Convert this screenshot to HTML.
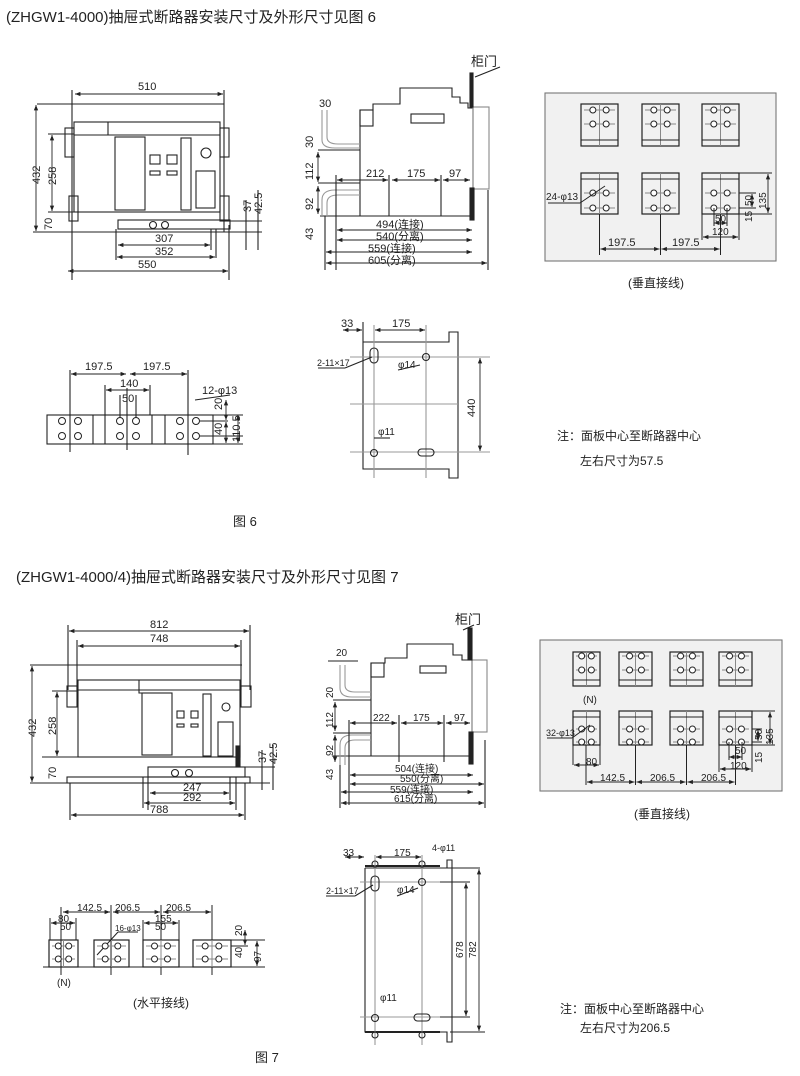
<!DOCTYPE html>
<html><head><meta charset="utf-8"><style>
html,body{margin:0;padding:0;background:#fff;}
svg{display:block}
text{font-family:"Liberation Sans","Noto Sans CJK SC",sans-serif;fill:#222}
</style></head><body>
<svg id="g" width="800" height="1076" viewBox="0 0 800 1076" xmlns="http://www.w3.org/2000/svg">
<defs>
<marker id="a" viewBox="0 0 10 10" refX="10" refY="5" markerWidth="6" markerHeight="6" orient="auto-start-reverse"><path d="M0,1 L10,5 L0,9z" fill="#222"/></marker>
</defs>
<g stroke="#222" fill="none" stroke-width="1.1">
<rect x="545" y="93" width="231" height="168" fill="#f1f1f1" stroke="#777"/>
<rect x="540" y="640" width="242" height="151" fill="#f1f1f1" stroke="#777"/>

<!-- FIG6 front -->
<rect x="74" y="122" width="146" height="90"/>
<rect x="65" y="128" width="9" height="29"/><rect x="220" y="128" width="9" height="29"/>
<line x1="74" y1="135" x2="220" y2="135"/>
<polyline points="108,122 108,135 112,135"/>
<rect x="115" y="137" width="30" height="73"/>
<rect x="150" y="155" width="10" height="9"/><rect x="167" y="155" width="10" height="9"/>
<rect x="150" y="171" width="10" height="4"/><rect x="167" y="171" width="10" height="4"/>
<rect x="181" y="138" width="10" height="72"/><circle cx="206" cy="153" r="5"/>
<rect x="196" y="171" width="19" height="37"/>
<rect x="69" y="196" width="9" height="25"/><rect x="220" y="196" width="9" height="25"/>
<rect x="118" y="220" width="112" height="9"/>
<circle cx="153" cy="225" r="3.5"/><circle cx="165" cy="225" r="3.5"/>
<line x1="33" y1="232" x2="262" y2="232"/><line x1="48" y1="212" x2="74" y2="212"/><line x1="37" y1="104" x2="224" y2="104"/><line x1="48" y1="134" x2="74" y2="134"/>
<line x1="72" y1="90" x2="72" y2="280"/><line x1="224" y1="90" x2="224" y2="232"/><line x1="229" y1="225" x2="229" y2="280"/>
<line x1="116" y1="229" x2="116" y2="260"/><line x1="211" y1="229" x2="211" y2="250"/><line x1="216" y1="229" x2="216" y2="258"/>
<line x1="230" y1="221" x2="262" y2="221"/><line x1="246" y1="200" x2="246" y2="250"/><line x1="258" y1="190" x2="258" y2="250"/>
</g>
<g stroke="#222" stroke-width="0.9" fill="none" marker-start="url(#a)" marker-end="url(#a)">
<line x1="75" y1="94" x2="223" y2="94"/>
<line x1="36" y1="105" x2="36" y2="231"/>
<line x1="52" y1="135" x2="52" y2="211"/>
<line x1="118" y1="245" x2="210" y2="245"/>
<line x1="117" y1="257" x2="215" y2="257"/>
<line x1="68" y1="271" x2="228" y2="271"/>
</g>
<g font-size="11">
<text x="138" y="90">510</text>
<text x="155" y="242">307</text>
<text x="155" y="255">352</text>
<text x="138" y="268">550</text>
<text transform="translate(40,184) rotate(-90)">432</text>
<text transform="translate(56,185) rotate(-90)">258</text>
<text transform="translate(52,230) rotate(-90)">70</text>
<text transform="translate(251,212) rotate(-90)">37</text>
<text transform="translate(262,214) rotate(-90)">42.5</text>
</g>

<!-- FIG6 side -->
<g stroke="#222" fill="none" stroke-width="1.1">
<polyline points="360,216 360,110 373,110 373,104 400,104 400,88 452,88 452,97 460,97 460,103 468,103 468,108 473,108 473,216 320,216"/>
<rect x="360" y="110" width="13" height="16"/>
<rect x="411" y="114" width="33" height="9"/>
<rect x="473" y="107" width="16" height="82" stroke="#888"/>
<rect x="470" y="73" width="3" height="34" fill="#222"/>
<rect x="470" y="188" width="4" height="32" fill="#222"/>
<line x1="475" y1="77" x2="500" y2="67"/>
<path d="M322,110 L322,140 Q322,148 335,148 L360,148 M327,110 L327,137 Q327,144 338,144 L360,144" stroke="#999"/>
<path d="M322,216 L322,200 Q322,190 335,190 L360,190 M327,216 L327,203 Q327,195 338,195 L360,195" stroke="#999"/>
<line x1="318" y1="150" x2="360" y2="150"/><line x1="318" y1="183" x2="360" y2="183"/>
<line x1="336" y1="175" x2="336" y2="270"/><line x1="389" y1="175" x2="389" y2="216"/><line x1="441" y1="175" x2="441" y2="216"/>
<line x1="488" y1="190" x2="488" y2="270"/><line x1="325" y1="216" x2="325" y2="270"/>
</g>
<g stroke="#222" stroke-width="0.9" marker-start="url(#a)" marker-end="url(#a)">
<line x1="337" y1="180" x2="388" y2="180"/><line x1="392" y1="180" x2="440" y2="180"/><line x1="443" y1="180" x2="470" y2="180"/>
<line x1="337" y1="230" x2="472" y2="230"/><line x1="337" y1="240" x2="472" y2="240"/>
<line x1="326" y1="252" x2="472" y2="252"/><line x1="326" y1="263" x2="487" y2="263"/>
<line x1="318" y1="152" x2="318" y2="182"/><line x1="318" y1="186" x2="318" y2="214"/>
</g>
<g font-size="11">
<text x="319" y="107">30</text><text x="366" y="177">212</text><text x="407" y="177">175</text><text x="449" y="177">97</text>
<text x="376" y="228">494(连接)</text><text x="376" y="240">540(分离)</text><text x="368" y="252">559(连接)</text><text x="368" y="264">605(分离)</text>
<text transform="translate(313,148) rotate(-90)">30</text><text transform="translate(313,180) rotate(-90)">112</text>
<text transform="translate(313,210) rotate(-90)">92</text><text transform="translate(313,240) rotate(-90)">43</text>
<text x="471" y="66" font-size="13">柜门</text>
</g>

<!-- FIG6 panel -->
<g stroke="#222" fill="none" id="p6"></g>
<g stroke="#222" fill="none">
<line x1="599.5" y1="214" x2="599.5" y2="255"/><line x1="660.5" y1="214" x2="660.5" y2="255"/><line x1="720.5" y1="214" x2="720.5" y2="255"/>
<line x1="714" y1="208" x2="714" y2="226"/><line x1="727" y1="208" x2="727" y2="226"/>
<line x1="702" y1="214" x2="702" y2="240"/><line x1="739" y1="214" x2="739" y2="240"/>
<line x1="739" y1="173" x2="772" y2="173"/><line x1="739" y1="214" x2="772" y2="214"/><line x1="739" y1="193" x2="756" y2="193"/><line x1="739" y1="208" x2="756" y2="208"/>
<line x1="548" y1="203" x2="580" y2="203"/><line x1="580" y1="203" x2="605" y2="186"/>
</g>
<g stroke="#222" stroke-width="0.9" marker-start="url(#a)" marker-end="url(#a)">
<line x1="600.5" y1="249" x2="659.5" y2="249"/><line x1="661.5" y1="249" x2="719.5" y2="249"/>
<line x1="714" y1="223" x2="727" y2="223"/><line x1="703" y1="237" x2="738" y2="237"/>
<line x1="768" y1="174" x2="768" y2="213"/><line x1="752" y1="194" x2="752" y2="207"/>
</g>
<g font-size="11">
<text x="546" y="200" font-size="10">24-φ13</text>
<text x="608" y="246">197.5</text><text x="672" y="246">197.5</text>
<text x="715" y="222" font-size="10">50</text><text x="712" y="235" font-size="10">120</text>
<text transform="translate(752,206) rotate(-90)" font-size="10">50</text>
<text transform="translate(766,209) rotate(-90)" font-size="10">135</text>
<text transform="translate(752,222) rotate(-90)" font-size="10">15</text>
<text x="628" y="287" font-size="12">(垂直接线)</text>
</g>

<!-- FIG6 horiz bar -->
<g stroke="#222" fill="none" stroke-width="1.1">
<rect x="47" y="415" width="166" height="29"/>
<line x1="93" y1="415" x2="93" y2="444"/><line x1="105" y1="415" x2="105" y2="444"/><line x1="152" y1="415" x2="152" y2="444"/><line x1="165" y1="415" x2="165" y2="444"/>
<line x1="70" y1="370" x2="70" y2="452"/><line x1="188" y1="370" x2="188" y2="455"/><line x1="127" y1="388" x2="127" y2="450"/>
<line x1="150" y1="385" x2="150" y2="415"/><line x1="120" y1="395" x2="120" y2="420"/><line x1="136" y1="395" x2="136" y2="420"/><line x1="105" y1="385" x2="105" y2="415"/>
<line x1="200" y1="415" x2="243" y2="415"/><line x1="200" y1="436" x2="243" y2="436"/><line x1="200" y1="421" x2="228" y2="421"/><line x1="213" y1="444" x2="243" y2="444"/>
<line x1="195" y1="400" x2="230" y2="395"/>
</g>
<g stroke="#222" stroke-width="0.9" marker-start="url(#a)" marker-end="url(#a)">
<line x1="71" y1="374" x2="126" y2="374"/><line x1="130" y1="374" x2="187" y2="374"/>
<line x1="106" y1="390" x2="149" y2="390"/>
<line x1="226" y1="400" x2="226" y2="420"/><line x1="226" y1="422" x2="226" y2="443"/><line x1="238" y1="415" x2="238" y2="443"/>
</g>
<g font-size="11">
<text x="85" y="370">197.5</text><text x="143" y="370">197.5</text><text x="120" y="387">140</text><text x="122" y="402">50</text>
<text x="202" y="394">12-φ13</text>
<text transform="translate(222,410) rotate(-90)">20</text><text transform="translate(222,435) rotate(-90)">40</text><text transform="translate(240,442) rotate(-90)">110.5</text>
<text x="233" y="526" font-size="13">图 6</text>
</g>

<!-- FIG6 mounting -->
<g stroke="#222" fill="none" stroke-width="1.1">
<polyline points="363,342 449,342 449,332 458,332 458,478 449,478 449,469 363,469 363,342"/>
<g stroke="#999"><line x1="374" y1="325" x2="374" y2="478"/><line x1="426" y1="325" x2="426" y2="478"/><line x1="350" y1="357" x2="490" y2="357"/><line x1="350" y1="452" x2="490" y2="452"/><line x1="350" y1="404" x2="458" y2="404"/></g>
<rect x="370" y="348" width="8" height="15" rx="4"/><circle cx="426" cy="357" r="3.5"/><circle cx="374" cy="453" r="3.5"/><rect x="418" y="449" width="16" height="7" rx="3.5"/>
<line x1="318" y1="368" x2="345" y2="368"/><line x1="345" y1="368" x2="372" y2="357"/>
<line x1="398" y1="370" x2="420" y2="365"/><line x1="374" y1="438" x2="390" y2="438"/>
<line x1="363" y1="322" x2="363" y2="342"/>
</g>
<g stroke="#222" stroke-width="0.9" marker-start="url(#a)" marker-end="url(#a)">
<line x1="343" y1="330" x2="362" y2="330"/><line x1="375" y1="330" x2="425" y2="330"/><line x1="480" y1="358" x2="480" y2="451"/>
</g>
<g font-size="11">
<text x="341" y="327">33</text><text x="392" y="327">175</text><text x="317" y="366" font-size="9">2-11×17</text><text x="398" y="368" font-size="10">φ14</text><text x="378" y="435" font-size="10">φ11</text>
<text transform="translate(475,417) rotate(-90)">440</text>
</g>
<text x="557" y="440" font-size="12">注：面板中心至断路器中心</text>
<text x="580" y="465" font-size="12">左右尺寸为57.5</text>

<text x="6" y="22" font-size="15">(ZHGW1-4000)抽屉式断路器安装尺寸及外形尺寸见图 6</text>
<text x="16" y="582" font-size="15">(ZHGW1-4000/4)抽屉式断路器安装尺寸及外形尺寸见图 7</text>

<!-- FIG7 front -->
<g stroke="#222" fill="none" stroke-width="1.1">
<rect x="78" y="680" width="162" height="77"/>
<rect x="67" y="686" width="10" height="21"/><rect x="241" y="686" width="10" height="21"/>
<line x1="78" y1="690" x2="240" y2="690"/><polyline points="139,680 139,693 142,693"/>
<rect x="142" y="693" width="30" height="62"/>
<rect x="177" y="711" width="7" height="7"/><rect x="191" y="711" width="7" height="7"/><rect x="177" y="724" width="7" height="3"/><rect x="191" y="724" width="7" height="3"/>
<rect x="203" y="694" width="8" height="62"/><circle cx="226" cy="707" r="4"/><rect x="218" y="722" width="15" height="34"/>
<rect x="236" y="746" width="4" height="21" fill="#222"/>
<rect x="148" y="767" width="97" height="10"/><circle cx="175" cy="773" r="3.5"/><circle cx="189" cy="773" r="3.5"/>
<rect x="67" y="777" width="183" height="6"/>
<line x1="30" y1="665" x2="242" y2="665"/><line x1="30" y1="783" x2="270" y2="783"/><line x1="52" y1="691" x2="78" y2="691"/><line x1="42" y1="757" x2="78" y2="757"/>
<line x1="68" y1="625" x2="68" y2="690"/><line x1="250" y1="625" x2="250" y2="690"/><line x1="77" y1="640" x2="77" y2="690"/><line x1="241" y1="640" x2="241" y2="690"/>
<line x1="148" y1="777" x2="148" y2="810"/><line x1="143" y1="777" x2="143" y2="808"/><line x1="230" y1="777" x2="230" y2="800"/><line x1="236" y1="777" x2="236" y2="810"/><line x1="70" y1="783" x2="70" y2="820"/><line x1="245" y1="783" x2="245" y2="820"/>
<line x1="245" y1="767" x2="275" y2="767"/><line x1="262" y1="750" x2="262" y2="790"/><line x1="273" y1="745" x2="273" y2="790"/>
</g>
<g stroke="#222" stroke-width="0.9" marker-start="url(#a)" marker-end="url(#a)">
<line x1="69" y1="631" x2="249" y2="631"/><line x1="78" y1="646" x2="240" y2="646"/>
<line x1="32" y1="666" x2="32" y2="782"/><line x1="57" y1="692" x2="57" y2="756"/>
<line x1="150" y1="793" x2="229" y2="793"/><line x1="144" y1="803" x2="235" y2="803"/><line x1="71" y1="815" x2="244" y2="815"/>
</g>
<g font-size="11">
<text x="150" y="628">812</text><text x="150" y="642">748</text><text x="183" y="791">247</text><text x="183" y="801">292</text><text x="150" y="813">788</text>
<text transform="translate(36,737) rotate(-90)">432</text><text transform="translate(56,735) rotate(-90)">258</text><text transform="translate(56,779) rotate(-90)">70</text>
<text transform="translate(266,763) rotate(-90)">37</text><text transform="translate(277,764) rotate(-90)">42.5</text>
</g>

<!-- FIG7 side -->
<g stroke="#222" fill="none" stroke-width="1.1">
<polyline points="371,756 371,663 385,663 385,658 407,658 407,644 453,644 453,655 462,655 462,660 472,660 472,756 332,756"/>
<rect x="371" y="663" width="13" height="14"/><rect x="420" y="666" width="26" height="7"/>
<rect x="472" y="660" width="15" height="72" stroke="#888"/>
<rect x="468" y="628" width="4" height="32" fill="#222"/><rect x="469" y="732" width="4" height="32" fill="#222"/>
<line x1="463" y1="630" x2="474" y2="625"/>
<path d="M340,665 L340,688 Q340,697 352,697 L371,697 M345,665 L345,685 Q345,692 355,692 L371,692" stroke="#999"/>
<path d="M340,765 L340,745 Q340,735 352,735 L371,735 M345,765 L345,748 Q345,740 355,740 L371,740" stroke="#999"/>
<line x1="333" y1="700" x2="371" y2="700"/><line x1="333" y1="733" x2="371" y2="733"/>
<line x1="349" y1="720" x2="349" y2="805"/><line x1="399" y1="715" x2="399" y2="762"/><line x1="444" y1="715" x2="444" y2="762"/><line x1="485" y1="740" x2="485" y2="808"/><line x1="340" y1="765" x2="340" y2="808"/>
<line x1="328" y1="661" x2="358" y2="661"/>
</g>
<g stroke="#222" stroke-width="0.9" marker-start="url(#a)" marker-end="url(#a)">
<line x1="350" y1="723" x2="397" y2="723"/><line x1="401" y1="723" x2="443" y2="723"/><line x1="446" y1="723" x2="470" y2="723"/>
<line x1="350" y1="775" x2="473" y2="775"/><line x1="350" y1="784" x2="484" y2="784"/><line x1="341" y1="792" x2="473" y2="792"/><line x1="341" y1="803" x2="484" y2="803"/>
<line x1="335" y1="702" x2="335" y2="731"/><line x1="335" y1="735" x2="335" y2="762"/>
</g>
<g font-size="10">
<text x="336" y="656">20</text><text x="373" y="721">222</text><text x="413" y="721">175</text><text x="454" y="721">97</text>
<text x="395" y="772">504(连接)</text><text x="400" y="782">550(分离)</text><text x="390" y="793">559(连接)</text><text x="394" y="802">615(分离)</text>
<text transform="translate(333,698) rotate(-90)">20</text><text transform="translate(333,728) rotate(-90)">112</text><text transform="translate(333,756) rotate(-90)">92</text><text transform="translate(333,780) rotate(-90)">43</text>
<text x="455" y="624" font-size="13">柜门</text>
</g>

<!-- FIG7 panel -->
<g stroke="#222" fill="none" id="p7"></g>
<g stroke="#222" fill="none">
<line x1="586" y1="745" x2="586" y2="785"/><line x1="635.5" y1="745" x2="635.5" y2="785"/><line x1="686.5" y1="745" x2="686.5" y2="785"/><line x1="735.5" y1="745" x2="735.5" y2="785"/>
<line x1="573" y1="745" x2="573" y2="765"/><line x1="600" y1="745" x2="600" y2="765"/>
<line x1="729" y1="742" x2="729" y2="760"/><line x1="742" y1="742" x2="742" y2="760"/>
<line x1="719" y1="745" x2="719" y2="772"/><line x1="752" y1="745" x2="752" y2="772"/>
<line x1="752" y1="711" x2="775" y2="711"/><line x1="752" y1="745" x2="775" y2="745"/><line x1="752" y1="729" x2="762" y2="729"/><line x1="752" y1="742" x2="762" y2="742"/>
<line x1="547" y1="738" x2="572" y2="738"/><line x1="572" y1="738" x2="590" y2="725"/>
</g>
<g stroke="#222" stroke-width="0.9" marker-start="url(#a)" marker-end="url(#a)">
<line x1="574" y1="765" x2="599" y2="765"/><line x1="587" y1="782" x2="634.5" y2="782"/><line x1="636.5" y1="782" x2="685.5" y2="782"/><line x1="687.5" y1="782" x2="734.5" y2="782"/>
<line x1="729" y1="757" x2="742" y2="757"/><line x1="720" y1="769" x2="751" y2="769"/>
<line x1="770" y1="712" x2="770" y2="744"/><line x1="758" y1="730" x2="758" y2="741"/>
</g>
<g font-size="10">
<text x="583" y="703">(N)</text><text x="546" y="736" font-size="9">32-φ13</text>
<text x="586" y="765">80</text><text x="600" y="781">142.5</text><text x="650" y="781">206.5</text><text x="701" y="781">206.5</text>
<text x="735" y="754">50</text><text x="730" y="769">120</text>
<text transform="translate(762,740) rotate(-90)">50</text><text transform="translate(773,745) rotate(-90)">135</text><text transform="translate(762,763) rotate(-90)">15</text>
<text x="634" y="818" font-size="12">(垂直接线)</text>
</g>

<!-- FIG7 horiz -->
<g stroke="#222" fill="none" id="h7">
<line x1="43" y1="967" x2="265" y2="967"/>
<line x1="61" y1="907" x2="61" y2="975"/><line x1="111" y1="905" x2="111" y2="975"/><line x1="161" y1="905" x2="161" y2="975"/><line x1="212" y1="905" x2="212" y2="975"/>
<line x1="50" y1="918" x2="50" y2="940"/><line x1="76" y1="918" x2="76" y2="940"/><line x1="143" y1="920" x2="143" y2="940"/><line x1="179" y1="920" x2="179" y2="940"/>
<line x1="231" y1="940" x2="265" y2="940"/><line x1="231" y1="946" x2="248" y2="946"/>
<line x1="97" y1="955" x2="118" y2="932"/><line x1="118" y1="932" x2="138" y2="932"/>
</g>
<g stroke="#222" stroke-width="0.9" marker-start="url(#a)" marker-end="url(#a)">
<line x1="63" y1="912" x2="110" y2="912"/><line x1="113" y1="912" x2="160" y2="912"/><line x1="163" y1="912" x2="211" y2="912"/>
<line x1="51" y1="923" x2="75" y2="923"/><line x1="144" y1="923" x2="178" y2="923"/>
<line x1="245" y1="930" x2="245" y2="945"/><line x1="257" y1="941" x2="257" y2="966"/>
</g>
<g font-size="10">
<text x="77" y="911">142.5</text><text x="115" y="911">206.5</text><text x="166" y="911">206.5</text>
<text x="58" y="922">80</text><text x="60" y="930">50</text><text x="155" y="922">155</text><text x="155" y="930">50</text>
<text x="115" y="931" font-size="8">16-φ13</text>
<text transform="translate(242,936) rotate(-90)">20</text><text transform="translate(242,958) rotate(-90)">40</text><text transform="translate(261,962) rotate(-90)">97</text>
<text x="57" y="986">(N)</text>
<text x="133" y="1007" font-size="12">(水平接线)</text>
<text x="255" y="1062" font-size="13">图 7</text>
</g>

<!-- FIG7 mounting -->
<g stroke="#222" fill="none" stroke-width="1.1">
<polyline points="365,868 447,868 447,860 452,860 452,1042 447,1042 447,1032 365,1032 365,868"/>
<line x1="365" y1="866" x2="440" y2="866" stroke-width="2"/><line x1="365" y1="1032" x2="440" y2="1032" stroke-width="2"/>
<g stroke="#999"><line x1="375" y1="855" x2="375" y2="1045"/><line x1="422" y1="855" x2="422" y2="1045"/><line x1="360" y1="882" x2="470" y2="882"/><line x1="360" y1="1017" x2="470" y2="1017"/></g>
<rect x="371" y="876" width="8" height="15" rx="4"/><circle cx="422" cy="882" r="3.5"/><circle cx="375" cy="1018" r="3.5"/><rect x="414" y="1014" width="16" height="7" rx="3.5"/>
<circle cx="375" cy="864" r="3"/><circle cx="422" cy="864" r="3"/><circle cx="375" cy="1035" r="3"/><circle cx="422" cy="1035" r="3"/>
<line x1="326" y1="896" x2="355" y2="896"/><line x1="355" y1="896" x2="373" y2="885"/><line x1="397" y1="896" x2="418" y2="888"/>
<line x1="445" y1="868" x2="480" y2="868"/><line x1="440" y1="882" x2="470" y2="882"/><line x1="440" y1="1017" x2="470" y2="1017"/><line x1="450" y1="1032" x2="485" y2="1032"/>
</g>
<g stroke="#222" stroke-width="0.9" marker-start="url(#a)" marker-end="url(#a)">
<line x1="345" y1="857" x2="364" y2="857"/><line x1="376" y1="857" x2="421" y2="857"/>
<line x1="466" y1="883" x2="466" y2="1016"/><line x1="479" y1="869" x2="479" y2="1031"/>
</g>
<g font-size="10">
<text x="343" y="856">33</text><text x="394" y="856">175</text><text x="432" y="851" font-size="9">4-φ11</text>
<text x="326" y="894" font-size="9">2-11×17</text><text x="397" y="893">φ14</text><text x="380" y="1001">φ11</text>
<text transform="translate(463,958) rotate(-90)">678</text><text transform="translate(476,958) rotate(-90)">782</text>
</g>
<text x="560" y="1013" font-size="12">注：面板中心至断路器中心</text>
<text x="580" y="1032" font-size="12">左右尺寸为206.5</text>
</svg>
<script>
var NS="http://www.w3.org/2000/svg";
function el(p,t,a){var e=document.createElementNS(NS,t);for(var k in a)e.setAttribute(k,a[k]);p.appendChild(e);return e;}
function box(p,x,y,w,h,hy1,hy2,bar){
 el(p,"rect",{x:x,y:y,width:w,height:h,"stroke-width":1.2});
 var cx=x+w/2;el(p,"line",{x1:cx,y1:y,x2:cx,y2:y+h,stroke:"#888"});
 if(bar=="b")el(p,"line",{x1:x,y1:y+h-6,x2:x+w,y2:y+h-6});
 if(bar=="t")el(p,"line",{x1:x,y1:y+6,x2:x+w,y2:y+6});
 var x1=x+w*0.32,x2=x+w*0.68;
 [hy1,hy2].forEach(function(hy){el(p,"line",{x1:x+3,y1:hy,x2:x+w-3,y2:hy,stroke:"#888"});
 [x1,x2].forEach(function(hx){el(p,"circle",{cx:hx,cy:hy,r:3,fill:"#fff"});});});
}
var p6=document.getElementById("p6");
[581,642,702].forEach(function(x){box(p6,x,104,37,42,110,124,"b");box(p6,x,173,37,41,193,208,"t");});
var p7=document.getElementById("p7");
[573,619,670,719].forEach(function(x,i){box(p7,x,652,i?33:27,34,656,670,"b");box(p7,x,711,i?33:27,34,729,742,"t");});
var h7=document.getElementById("h7");
[[49,29],[94,35],[143,36],[193,38]].forEach(function(b){box(h7,b[0],940,b[1],27,946,959,"");});
var g=document.getElementById("g");
[62,78,120,136,180,196].forEach(function(x){[421,436].forEach(function(y){el(g,"circle",{cx:x,cy:y,r:3.5,fill:"#fff",stroke:"#222"});});});
</script>
</body></html>
